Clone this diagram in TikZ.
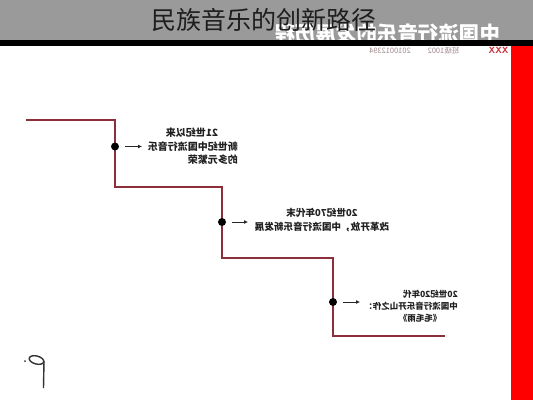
\documentclass[tikz,border=0pt]{standalone}
\usepackage{fontspec}
\usepackage{graphicx}
\usetikzlibrary{arrows.meta}
\newfontfamily\cjk{Noto Sans CJK SC}
\definecolor{hdrgray}{HTML}{9A9A9A}
\definecolor{titlec}{HTML}{1E1E1E}
\definecolor{stairc}{HTML}{8C2F3B}
\definecolor{barred}{HTML}{FF0000}
\definecolor{smallgray}{HTML}{A08A8E}
\definecolor{xxxred}{HTML}{C8303A}
\definecolor{bodyc}{HTML}{202020}
\tikzset{
  stair/.style={draw=stairc, line width=1.5pt},
  dotmark/.style={circle, fill=black, inner sep=0pt, minimum size=8pt},
  arr/.style={draw=black!85, line width=0.8pt, -{Latex[length=4pt,width=4pt]}},
  txt/.style={inner sep=0pt, text=bodyc},
}
\newcommand{\mir}[1]{\reflectbox{#1}}
\begin{document}
\begin{tikzpicture}[x=1pt,y=-1pt]
\useasboundingbox (0,0) rectangle (533,400);
\fill[white] (0,0) rectangle (533,400);
% header
\fill[hdrgray] (0,0) rectangle (533,40);
\node[inner sep=0pt, text=white, font=\cjk\bfseries\fontsize{20.5}{22}\selectfont] (subtitle) at (387.5,33.5) {\mir{中国流行音乐的发展历程}};
\fill[black] (0,40) rectangle (533,45.5);
\fill[barred] (511,45.5) rectangle (533,400);
\node[inner sep=0pt, text=titlec, font=\cjk\fontsize{25}{28}\selectfont] (title) at (264,20) {民族音乐的创新路径};
% small info line
\node[inner sep=0pt, text=xxxred, font=\sffamily\bfseries\fontsize{9}{10}\selectfont] (xxx) at (498.5,50.5) {\mir{XXX}};
\node[inner sep=0pt, text=smallgray, font=\cjk\fontsize{7.5}{8}\selectfont] (cls) at (443.5,50.5) {\mir{班级1002}};
\node[inner sep=0pt, text=smallgray, font=\cjk\fontsize{7.5}{8}\selectfont] (num) at (390,50.5) {\mir{2010012394}};
% staircase
\coordinate (s0) at (26,120);
\coordinate (c1) at (115,120);
\coordinate (c2) at (115,187);
\coordinate (c3) at (222,187);
\coordinate (c4) at (222,258);
\coordinate (c5) at (333,258);
\coordinate (c6) at (333,336);
\coordinate (e) at (445,336);
\draw[stair] (s0) -- (c1) -- (c2) -- (c3) -- (c4) -- (c5) -- (c6) -- (e);
\node[dotmark] (p1) at (115,146.5) {};
\node[dotmark] (p2) at (222,222) {};
\node[dotmark] (p3) at (333,302) {};
\coordinate (a1s) at (125,146.5); \coordinate (a1e) at (142,146.5);
\coordinate (a2s) at (232,222); \coordinate (a2e) at (248,222);
\coordinate (a3s) at (343,302); \coordinate (a3e) at (360,302);
\draw[arr] (a1s) -- (a1e);
\draw[arr] (a2s) -- (a2e);
\draw[arr] (a3s) -- (a3e);
% block 1
\node[txt, font=\cjk\bfseries\fontsize{10}{12}\selectfont] (b1l1) at (192,133) {\mir{21世纪以来}};
\node[txt, font=\cjk\bfseries\fontsize{10}{12}\selectfont, anchor=east] (b1l2) at (238,146.5) {\mir{新世纪中国流行音乐}};
\node[txt, font=\cjk\bfseries\fontsize{10}{12}\selectfont, anchor=east] (b1l3) at (238,160) {\mir{的多元繁荣}};
% block 2
\node[txt, font=\cjk\bfseries\fontsize{9.6}{11}\selectfont] (b2l1) at (322,213) {\mir{20世纪70年代末}};
\node[txt, font=\cjk\bfseries\fontsize{9.6}{11}\selectfont] (b2l2) at (322,227) {\mir{改革开放，中国流行音乐新发展}};
% block 3
\node[txt, font=\cjk\bfseries\fontsize{8.5}{10}\selectfont, anchor=east] (b3l1) at (458,294) {\mir{20世纪20年代}};
\node[txt, font=\cjk\bfseries\fontsize{8.5}{10}\selectfont, anchor=east] (b3l2) at (458,306) {\mir{中国流行音乐开山之作：}};
\node[txt, font=\cjk\bfseries\fontsize{8.5}{10}\selectfont] (b3l3) at (420,318) {\mir{《毛毛雨》}};
% mirrored note mark
\draw[black!80, line width=1.4pt, rotate around={-15:(36.5,360)}] (36.5,360) ellipse (7.5 and 4);
\draw[black!80, line width=1.4pt] (44,361) -- (43.5,388);
\fill[black!80] (25,361) circle (1);
\end{tikzpicture}
\end{document}
